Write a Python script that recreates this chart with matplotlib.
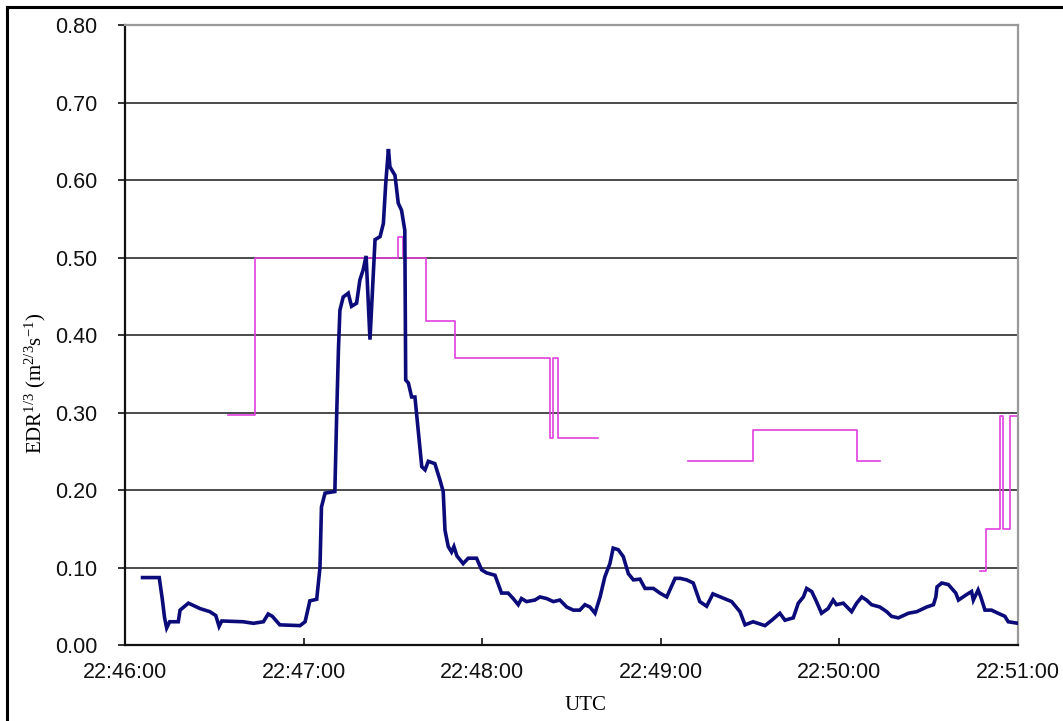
import numpy as np
import matplotlib
matplotlib.use("Agg")
import matplotlib.pyplot as plt
from matplotlib.lines import Line2D

# ---- data (seconds after 22:46:00) ----
edr_t = [5.9, 11.5, 12.5, 13.3, 14.0, 15.0, 17.9, 18.5, 21.3, 25.2, 28.5, 30.5, 31.6, 32.5,
         39.7, 43.1, 46.5, 48.1, 49.5, 52.0, 58.8, 60.5, 62.1, 64.4, 65.5, 66.0, 67.2, 70.5,
         71.1, 71.7, 72.2, 73.3, 75.0, 76.1, 77.8, 78.9, 80.0, 81.0, 82.3, 84.0, 85.7, 86.8,
         87.6, 88.5, 89.0, 90.7, 91.8, 92.9, 94.0, 94.3, 95.2, 96.3, 97.4, 99.7, 100.8, 101.9,
         104.1, 105.8, 106.9, 107.5, 108.6, 109.7, 110.5, 111.5, 113.6, 115.3, 118.1, 119.8,
         121.5, 124.3, 126.5, 128.7, 130.4, 132.1, 133.2, 134.9, 137.7, 139.4, 141.6, 143.9,
         146.1, 148.4, 150.6, 152.8, 154.5, 156.2, 157.9, 159.6, 161.2, 162.9, 164.0, 165.7,
         167.4, 169.1, 170.8, 173.0, 174.7, 177.5, 179.7, 182.0, 184.8, 186.5, 188.7, 190.9,
         193.1, 195.4, 197.5, 200.0, 203.8, 206.6, 208.3, 211.0, 215.0, 217.3, 220.0, 221.7,
         224.5, 226.2, 227.9, 229.0, 230.7, 232.3, 234.0, 236.2, 237.9, 239.0, 241.3, 244.1,
         245.8, 247.5, 249.1, 250.8, 253.6, 255.9, 257.5, 259.8, 263.2, 266.0, 269.3, 271.6,
         272.4, 272.8, 274.4, 276.6, 279.1, 280.0, 282.7, 284.4, 285.0, 286.6, 287.5, 288.9,
         291.1, 293.3, 295.6, 296.7, 300.0]
edr_v = [0.087, 0.087, 0.060, 0.035, 0.022, 0.030, 0.030, 0.045, 0.054, 0.047, 0.043, 0.038, 0.024, 0.031,
         0.030, 0.028, 0.030, 0.040, 0.037, 0.026, 0.025, 0.030, 0.057, 0.059, 0.100, 0.178, 0.196, 0.198,
         0.295, 0.381, 0.432, 0.449, 0.454, 0.437, 0.441, 0.471, 0.484, 0.502, 0.394, 0.523, 0.527, 0.544,
         0.596, 0.640, 0.617, 0.606, 0.570, 0.561, 0.535, 0.342, 0.338, 0.320, 0.320, 0.230, 0.226, 0.237,
         0.234, 0.213, 0.198, 0.148, 0.127, 0.120, 0.127, 0.115, 0.105, 0.112, 0.112, 0.097,
         0.093, 0.090, 0.067, 0.067, 0.060, 0.052, 0.060, 0.056, 0.058, 0.062, 0.060, 0.056,
         0.058, 0.049, 0.045, 0.045, 0.052, 0.049, 0.041, 0.062, 0.088, 0.105, 0.125, 0.123,
         0.114, 0.092, 0.084, 0.085, 0.073, 0.073, 0.067, 0.062, 0.086, 0.086, 0.084, 0.080,
         0.056, 0.050, 0.066, 0.062, 0.056, 0.043, 0.026, 0.030, 0.025, 0.032, 0.041, 0.032,
         0.035, 0.054, 0.062, 0.073, 0.069, 0.056, 0.041, 0.047, 0.058, 0.052, 0.054, 0.043,
         0.054, 0.062, 0.058, 0.052, 0.049, 0.043, 0.037, 0.035, 0.041, 0.043, 0.049, 0.052,
         0.062, 0.075, 0.080, 0.078, 0.067, 0.058, 0.065, 0.069, 0.058, 0.071, 0.062, 0.045,
         0.045, 0.041, 0.037, 0.030, 0.028]

step_t = [34.6, 43.7, 91.6, 93.5, 101.1, 110.8, 142.8, 143.8, 145.5, 159.0,
          189.2, 211.0, 246.0, 253.6,
          287.2, 289.4, 293.9, 295.0, 297.3, 300.0]
step_v = [0.297, 0.500, 0.526, 0.500, 0.418, 0.370, 0.267, 0.370, 0.267, np.nan,
          0.237, 0.278, 0.237, np.nan,
          0.095, 0.150, 0.295, 0.150, 0.295, 0.295]

x_ticks = [0, 60, 120, 180, 240, 300]
x_labels = ["22:46:00", "22:47:00", "22:48:00", "22:49:00", "22:50:00", "22:51:00"]
y_ticks = [0.0, 0.1, 0.2, 0.3, 0.4, 0.5, 0.6, 0.7, 0.8]
y_labels = ["0.00", "0.10", "0.20", "0.30", "0.40", "0.50", "0.60", "0.70", "0.80"]

W, H = 1063, 721
fig = plt.figure(figsize=(W / 100, H / 100), dpi=100)
fig.patch.set_facecolor("white")
ax = fig.add_axes([125 / W, 1 - 645 / H, (1018 - 125) / W, (645 - 25) / H])

tick_font = ["Liberation Sans Narrow", "Liberation Sans", "DejaVu Sans"]

for y in y_ticks[1:-1]:
    ax.axhline(y, color="#1a1a1a", lw=1.1, zorder=1)

ax.plot(edr_t, edr_v, color="#0b0b7a", lw=2.6, zorder=3, solid_joinstyle="miter")
ax.plot(step_t, step_v, color="#e040e0", lw=1.2, drawstyle="steps-post", zorder=2)

ax.set_xlim(0, 300)
ax.set_ylim(0, 0.8)
ax.set_xticks(x_ticks)
ax.set_xticklabels(x_labels, family=tick_font, fontsize=15.5)
ax.set_yticks(y_ticks)
ax.set_yticklabels(y_labels, family=tick_font, fontsize=15.5)
ax.tick_params(axis="x", direction="in", length=5, width=1.2, pad=12, colors="#111111")
ax.tick_params(axis="y", direction="out", length=5, width=1.2, pad=15, colors="#111111")

for side in ["left", "bottom"]:
    ax.spines[side].set_color("#111111")
    ax.spines[side].set_linewidth(1.6)
for side in ["top", "right"]:
    ax.spines[side].set_color("#999999")
    ax.spines[side].set_linewidth(1.6)

plt.rcParams["mathtext.fontset"] = "custom"
plt.rcParams["mathtext.rm"] = "Liberation Serif"
plt.rcParams["mathtext.it"] = "Liberation Serif:italic"

fig.text(35 / W, 1 - 383 / H, r"EDR$^{\mathrm{1/3}}$ (m$^{\mathrm{2/3}}$s$^{\mathrm{-1}}$)",
         rotation=90, ha="center", va="center", family="Liberation Serif", fontsize=15)
fig.text(585 / W, 1 - 706 / H, "UTC", ha="center", va="center",
         family="Liberation Serif", fontsize=15)

# outer image border (left and top)
fig.add_artist(Line2D([7 / W, 7 / W], [0, 1 - 7 / H], transform=fig.transFigure,
                      color="black", lw=2.2))
fig.add_artist(Line2D([7 / W, 1], [1 - 7 / H, 1 - 7 / H], transform=fig.transFigure,
                      color="black", lw=2.2))

fig.savefig("out.png", dpi=100, facecolor="white")
